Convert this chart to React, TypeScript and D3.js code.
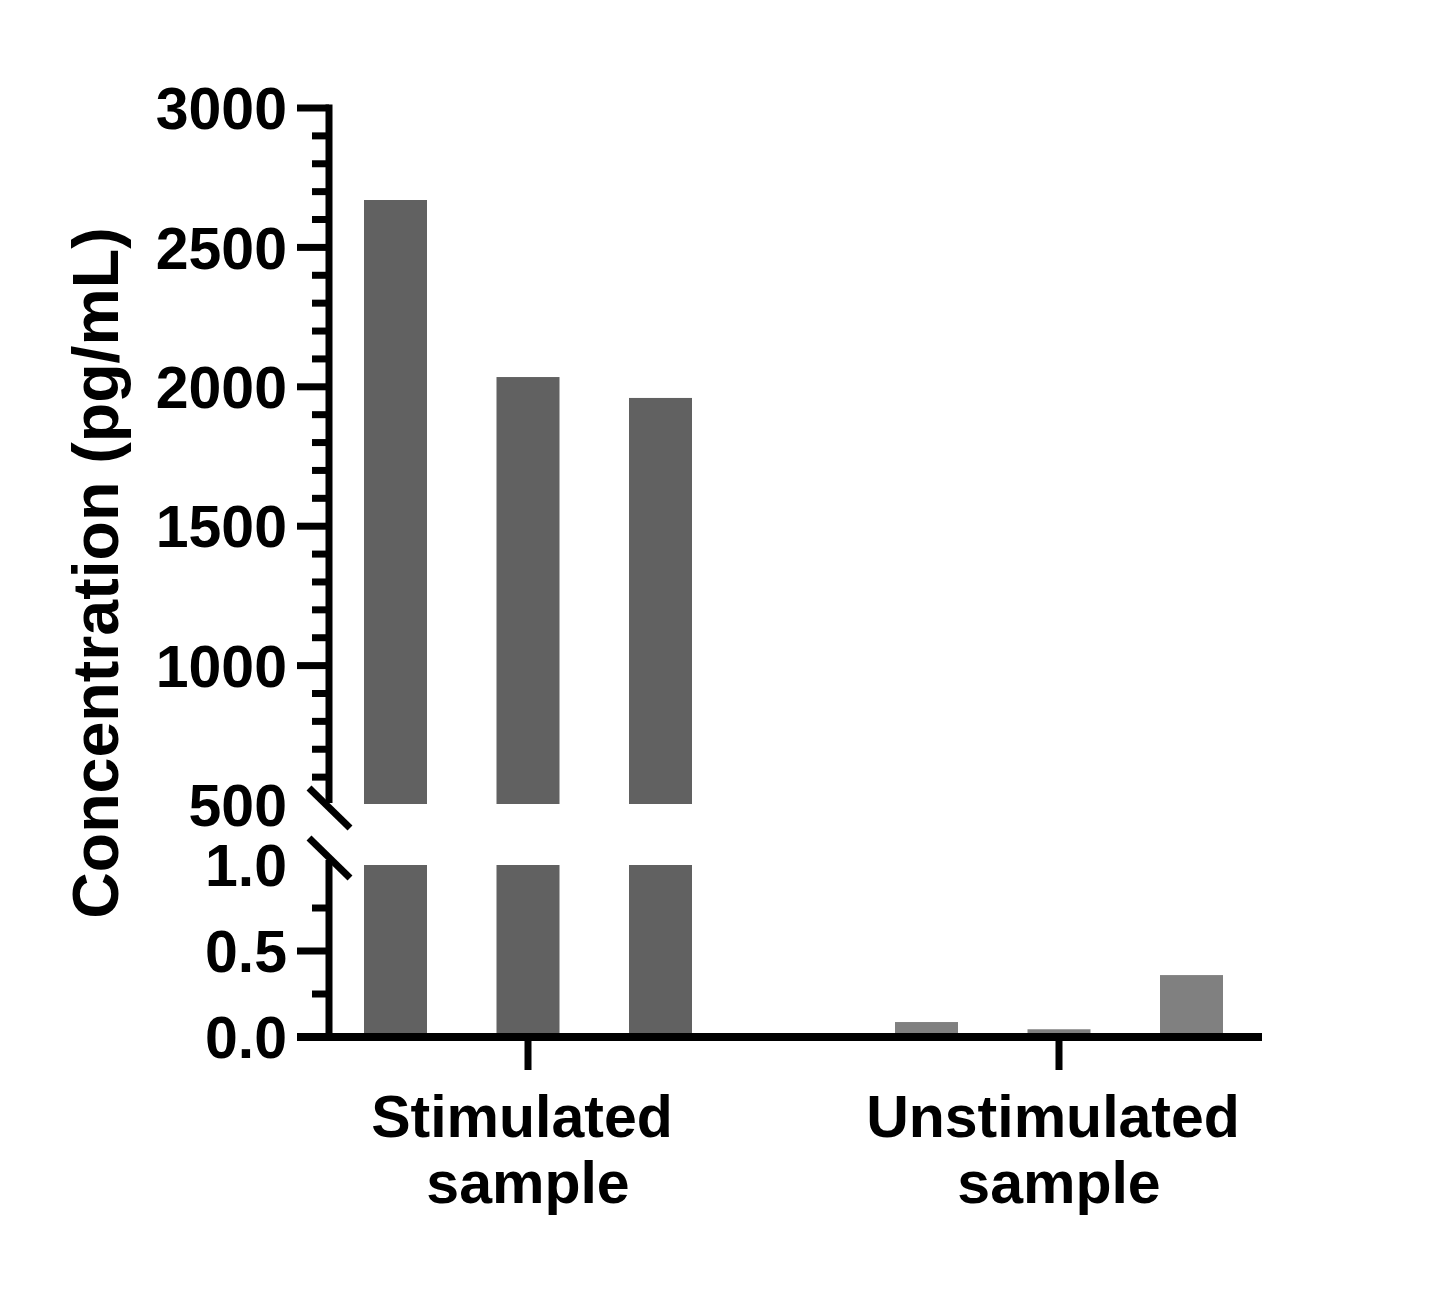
import React from "react";
import * as d3 from "d3";

const groups = ["Stimulated sample", "Unstimulated sample"];
const stimulatedValues = [2670, 2035, 1960];
const unstimulatedValues = [0.087, 0.045, 0.36];
const upperMajorTicks = [500, 1000, 1500, 2000, 2500, 3000];
const lowerMajorTicks = [0, 0.5, 1.0];
const lowerMinorTicks = [0.25, 0.75];
const upperTickLabels = ["500", "1000", "1500", "2000", "2500", "3000"];
const lowerTickLabels = ["0.0", "0.5", "1.0"];
const yTitle = "Concentration (pg/mL)";

const W = 1445;
const H = 1299;
const AX = 329;
const FONT = "'Liberation Sans', Arial, Helvetica, sans-serif";

export default function App() {
  const yUpper = d3.scaleLinear().domain([500, 3000]).range([805, 108]);
  const yLower = d3.scaleLinear().domain([0, 1]).range([1037, 865]);
  const xGroup = d3.scalePoint<string>().domain(groups).range([528, 1059]);
  const xInner = d3.scalePoint<number>().domain([0, 1, 2]).range([-132.5, 132.5]);
  const barW = 63;

  const upperMinor = d3.range(600, 3000, 100).filter((v) => v % 500 !== 0);

  const series = [
    { group: groups[0], values: stimulatedValues, color: "#616161" },
    { group: groups[1], values: unstimulatedValues, color: "#808080" },
  ];

  const bars: React.ReactNode[] = [];
  series.forEach((s) => {
    s.values.forEach((v, i) => {
      const cx = (xGroup(s.group) as number) + (xInner(i) as number);
      const x = cx - barW / 2;
      const lv = Math.min(v, 1);
      bars.push(
        <rect
          key={`l-${s.group}-${i}`}
          x={x}
          y={yLower(lv)}
          width={barW}
          height={yLower(0) - yLower(lv)}
          fill={s.color}
        />
      );
      if (v > 500) {
        bars.push(
          <rect
            key={`u-${s.group}-${i}`}
            x={x}
            y={yUpper(v)}
            width={barW}
            height={yUpper(500) - 1 - yUpper(v)}
            fill={s.color}
          />
        );
      }
    });
  });

  return (
    <svg
      width={W}
      height={H}
      style={{ position: "absolute", left: 0, top: 0, background: "#fff" }}
      fontFamily={FONT}
      fontWeight="bold"
    >
      <rect x={0} y={0} width={W} height={H} fill="#fff" />
      {bars}

      {/* upper axis */}
      <line x1={AX} x2={AX} y1={yUpper(3000) - 3.5} y2={803} stroke="#000" strokeWidth={7} />
      {upperMajorTicks
        .filter((t) => t !== 500)
        .map((t) => (
          <line key={`um-${t}`} x1={297} x2={AX} y1={yUpper(t)} y2={yUpper(t)} stroke="#000" strokeWidth={7} />
        ))}
      {upperMinor.map((t) => (
        <line key={`un-${t}`} x1={312} x2={AX} y1={yUpper(t)} y2={yUpper(t)} stroke="#000" strokeWidth={7} />
      ))}
      {upperMajorTicks.map((t, i) => (
        <text key={`ul-${t}`} x={287} y={yUpper(t)} dy="0.36em" textAnchor="end" fontSize={59} fill="#000">
          {upperTickLabels[i]}
        </text>
      ))}

      {/* lower axis */}
      <line x1={AX} x2={AX} y1={860} y2={yLower(0)} stroke="#000" strokeWidth={7} />
      {lowerMajorTicks
        .filter((t) => t === 0.5)
        .map((t) => (
          <line key={`lm-${t}`} x1={297} x2={AX} y1={yLower(t)} y2={yLower(t)} stroke="#000" strokeWidth={7} />
        ))}
      {lowerMinorTicks.map((t) => (
        <line key={`ln-${t}`} x1={312} x2={AX} y1={yLower(t)} y2={yLower(t)} stroke="#000" strokeWidth={7} />
      ))}
      {lowerMajorTicks.map((t, i) => (
        <text key={`ll-${t}`} x={287} y={yLower(t)} dy="0.36em" textAnchor="end" fontSize={59} fill="#000">
          {lowerTickLabels[i]}
        </text>
      ))}

      {/* break marks */}
      <line x1={309} y1={788} x2={350} y2={828} stroke="#000" strokeWidth={7} />
      <line x1={309} y1={838} x2={350} y2={878} stroke="#000" strokeWidth={7} />

      {/* x axis */}
      <line x1={297} x2={1262} y1={yLower(0)} y2={yLower(0)} stroke="#000" strokeWidth={8} />
      {groups.map((g) => (
        <line
          key={`xt-${g}`}
          x1={xGroup(g) as number}
          x2={xGroup(g) as number}
          y1={yLower(0)}
          y2={1070}
          stroke="#000"
          strokeWidth={7}
        />
      ))}
      {groups.map((g) => {
        const parts = g.split(" ");
        const cx = xGroup(g) as number;
        return (
          <text key={`xl-${g}`} x={cx} y={1137} textAnchor="middle" fontSize={59} fill="#000">
            <tspan x={cx - 6} y={1137}>{parts[0]}</tspan>
            <tspan x={cx} y={1203}>{parts[1]}</tspan>
          </text>
        );
      })}

      {/* y title */}
      <text transform="translate(118,573) rotate(-90)" textAnchor="middle" fontSize={64.5} fill="#000">
        {yTitle}
      </text>
    </svg>
  );
}
